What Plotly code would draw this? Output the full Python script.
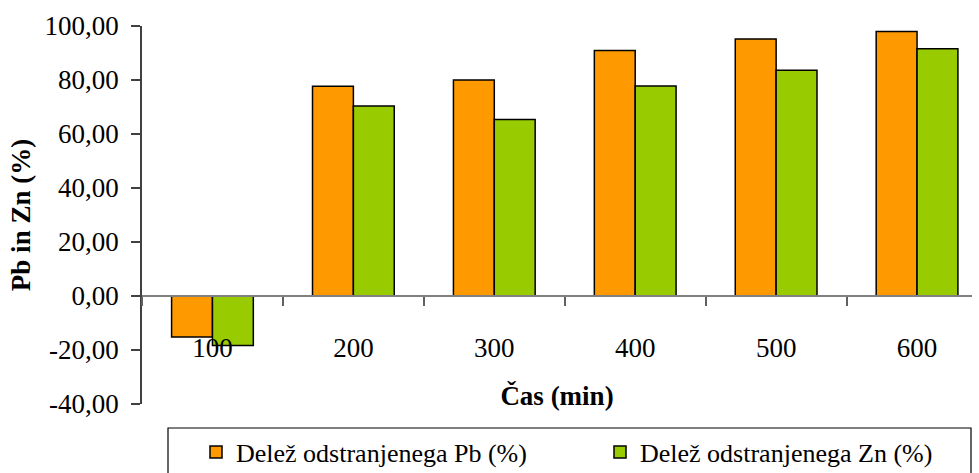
import plotly.graph_objects as go

# Reaction time (min) and removal share of each metal
cas = ["100", "200", "300", "400", "500", "600"]
delez_pb = [-15.2, 77.7, 80.0, 90.9, 95.2, 98.0]
delez_zn = [-18.3, 70.4, 65.4, 77.8, 83.6, 91.6]

# Value axis ticks, written with a decimal comma and a plain hyphen
y_ticks = [-40, -20, 0, 20, 40, 60, 80, 100]
y_tick_text = [f"{v:.2f}".replace(".", ",") for v in y_ticks]

ime_pb = "Delež odstranjenega Pb (%)"
ime_zn = "Delež odstranjenega Zn (%)"

FONT = "Liberation Serif"

fig = go.Figure()
fig.add_trace(go.Bar(x=cas, y=delez_pb, name=ime_pb, legend="legend",
                     marker=dict(color="#FF9900", line=dict(color="#000000", width=1.5))))
fig.add_trace(go.Bar(x=cas, y=delez_zn, name=ime_zn, legend="legend2",
                     marker=dict(color="#99CC00", line=dict(color="#000000", width=1.5))))

y_min, y_max = -40, 100
L, R, T, B = 142, 7, 26, 69
W, H = 979, 473
pw, ph = W - L - R, H - T - B


def px_x(p):
    return (p - L) / pw


def px_y(p):
    return (H - B - p) / ph


legend_common = dict(orientation="h", xanchor="left", yanchor="middle",
                     borderwidth=0, bgcolor="rgba(0,0,0,0)",
                     font=dict(family=FONT, size=26, color="#000000"))

fig.update_layout(
    width=W, height=H,
    margin=dict(l=L, r=R, t=T, b=B, autoexpand=False),
    paper_bgcolor="white", plot_bgcolor="white",
    font=dict(family=FONT, size=27, color="#000000"),
    barmode="group", bargap=0.42, bargroupgap=0,
    showlegend=True,
    legend=dict(x=px_x(196), y=px_y(452), **legend_common),
    legend2=dict(x=px_x(600), y=px_y(452), **legend_common),
    shapes=[dict(type="rect", xref="paper", yref="paper",
                 x0=px_x(168), x1=px_x(971), y0=px_y(428), y1=px_y(480),
                 line=dict(color="#000000", width=1.2), fillcolor="rgba(0,0,0,0)")],
    xaxis=dict(
        type="category", range=[-0.5, 5.39],
        anchor="free", position=(0 - y_min) / (y_max - y_min),
        showline=True, linecolor="#808080", linewidth=1.5,
        ticks="outside", tickson="boundaries", ticklen=9, tickcolor="#606060", tickwidth=1.5,
        ticklabelstandoff=28,
        tickfont=dict(family=FONT, size=27),
        showgrid=False, zeroline=False,
        title=dict(text="<b>Čas (min)</b>", font=dict(family=FONT, size=27), standoff=23),
    ),
    yaxis=dict(
        range=[y_min, y_max], tickvals=y_ticks, ticktext=y_tick_text,
        showline=True, linecolor="#404040", linewidth=1.5,
        ticks="outside", ticklen=9, tickcolor="#404040", tickwidth=1.5,
        ticklabelstandoff=7,
        tickfont=dict(family=FONT, size=27),
        showgrid=False, zeroline=False,
        title=dict(text="<b>Pb in Zn (%)</b>", font=dict(family=FONT, size=27), standoff=6),
    ),
)

fig.write_html("out.html")
